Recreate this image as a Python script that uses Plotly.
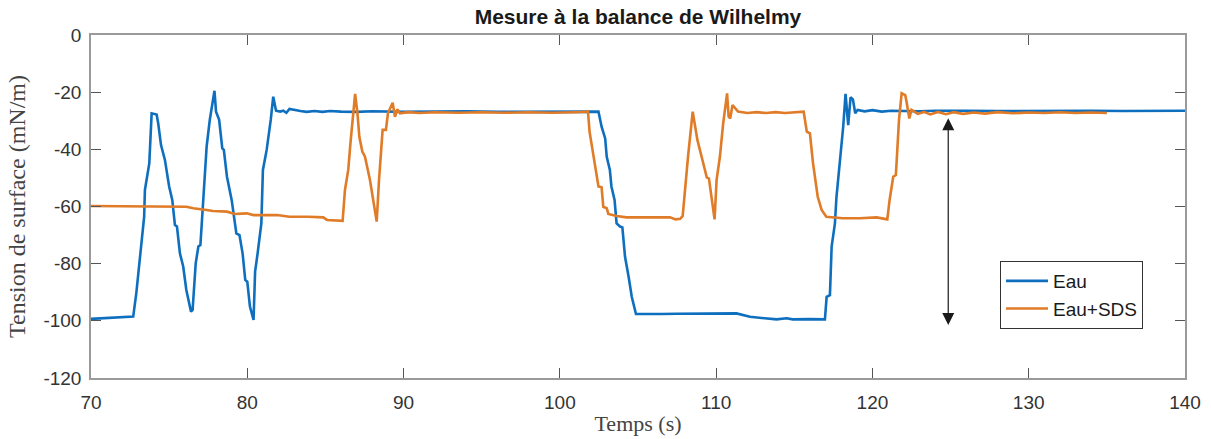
import plotly.graph_objects as go

# ---------------- data ----------------
eau_t = [70.0, 71.0, 72.0, 72.7, 72.9, 73.24, 73.4, 73.45, 73.73, 73.88, 74.2, 74.3, 74.48,
         74.73, 75.0, 75.2, 75.37, 75.5, 75.69, 75.9, 76.1, 76.4, 76.5, 76.7, 76.87, 77.0,
         77.2, 77.4, 77.6, 77.8, 77.9, 78.0, 78.2, 78.4, 78.5, 78.7, 79.0, 79.3, 79.5, 79.7,
         79.87, 80.0, 80.17, 80.4, 80.5, 80.66, 80.9, 81.0, 81.24, 81.5, 81.66, 81.84, 82.1,
         82.3, 82.5, 82.7, 83.0, 83.4, 83.8, 84.3, 84.8, 85.3, 86.0, 87.0, 88.0, 89.0, 90.0,
         92.0, 94.0, 96.0, 98.0, 100.0, 102.0, 102.47, 102.67, 102.9, 103.0, 103.2, 103.3,
         103.5, 103.63, 103.85, 104.0, 104.17, 104.4, 104.6, 104.87, 105.55, 106.5, 107.5,
         109.0, 110.5, 111.3, 112.16, 113.0, 113.87, 114.5, 114.9, 116.0, 116.96, 117.07,
         117.28, 117.39, 117.6, 117.7, 117.92, 118.13, 118.28, 118.45, 118.6, 118.75, 118.9,
         119.05, 119.5, 120.0, 120.6, 121.2, 122.0, 123.0, 124.0, 125.0, 126.0, 128.0, 130.0,
         132.0, 134.0, 136.0, 138.0, 140.0]
eau_v = [-99.3, -99.0, -98.8, -98.5, -90.3, -71.7, -63.6, -54.2, -44.9, -27.4, -27.8, -30.9,
         -38.5, -43.7, -53.0, -57.7, -66.5, -67.0, -76.4, -81.0, -89.2, -96.8, -96.2, -79.9,
         -74.0, -73.5, -57.7, -39.0, -29.7, -22.7, -19.5, -26.8, -29.7, -39.7, -40.2, -49.6,
         -57.7, -69.4, -70.0, -76.4, -85.7, -86.3, -95.0, -99.7, -82.8, -76.4, -65.9, -47.2,
         -40.2, -29.7, -21.6, -26.5, -26.8, -26.5, -27.2, -25.9, -26.3, -26.6, -26.9, -26.6,
         -26.9, -26.6, -26.8, -26.9, -26.7, -26.8, -26.9, -26.8, -26.7, -26.9, -26.8, -26.8,
         -26.8, -26.8, -32.1, -36.2, -42.6, -47.2, -53.0, -57.7, -65.9, -67.0, -67.3, -77.6,
         -84.6, -91.6, -97.6, -97.7, -97.6, -97.5, -97.4, -97.4, -97.4, -98.6, -99.1, -99.5,
         -99.1, -99.5, -99.4, -99.5, -91.6, -91.0, -74.0, -65.9, -56.6, -44.9, -32.1, -20.6,
         -31.5, -21.8, -22.5, -27.4, -26.2, -26.7, -26.3, -26.8, -26.5, -26.6, -26.7, -26.5,
         -26.6, -26.5, -26.6, -26.5, -26.6, -26.5, -26.6, -26.5, -26.5]

sds_t = [70.0, 72.0, 74.0, 76.1, 76.55, 77.4, 77.8, 78.7, 79.2, 79.96, 80.4, 81.9, 82.7, 83.9,
         84.86, 85.1, 86.1, 86.25, 86.46, 86.6, 86.78, 86.9, 87.05, 87.17, 87.36, 87.53, 87.85,
         88.1, 88.28, 88.43, 88.66, 88.87, 89.0, 89.3, 89.45, 89.6, 89.77, 90.3, 91.0, 92.0,
         93.5, 95.0, 96.5, 98.0, 99.5, 101.0, 101.8, 101.9, 102.1, 102.3, 102.47, 102.67,
         102.78, 103.0, 103.1, 103.63, 104.27, 105.5, 107.05, 107.4, 107.7, 107.86, 108.0,
         108.2, 108.5, 108.8, 109.07, 109.4, 109.54, 109.7, 109.9, 110.03, 110.24, 110.45,
         110.7, 110.8, 110.9, 111.05, 111.4, 112.0, 112.6, 113.2, 113.8, 114.4, 115.0, 115.6,
         115.8, 116.0, 116.2, 116.5, 116.75, 117.05, 118.1, 119.2, 120.27, 120.95, 121.1,
         121.33, 121.5, 121.7, 121.87, 122.1, 122.2, 122.36, 122.5, 122.9, 123.3, 123.7, 124.2,
         124.7, 125.2, 125.8, 126.5, 127.2, 128.0, 129.0, 130.0, 131.0, 132.0, 133.0, 134.0,
         135.0]
sds_v = [-59.8, -60.0, -60.0, -60.1, -60.6, -61.2, -61.6, -61.8, -62.6, -62.4, -63.0, -63.0,
         -63.6, -63.6, -63.8, -64.7, -65.0, -54.2, -47.2, -37.9, -28.6, -20.6, -27.4, -35.6,
         -40.8, -42.6, -50.7, -58.9, -65.3, -50.7, -33.2, -33.2, -27.4, -23.7, -28.6, -26.0,
         -27.4, -27.0, -27.3, -27.0, -27.2, -27.0, -27.2, -27.0, -27.2, -27.0, -26.8, -33.8,
         -40.2, -47.2, -53.0, -53.3, -60.1, -60.6, -62.6, -63.3, -63.8, -63.8, -63.8, -64.5,
         -64.3, -63.3, -54.2, -42.6, -26.8, -36.7, -42.6, -49.8, -50.2, -56.6, -64.5, -50.7,
         -42.6, -30.9, -20.4, -28.6, -29.2, -24.5, -26.8, -27.3, -27.0, -27.3, -27.0, -27.3,
         -27.0, -26.8, -33.8, -34.4, -44.9, -56.6, -61.2, -63.6, -64.1, -64.1, -63.8, -64.5,
         -57.7, -49.6, -49.0, -29.7, -20.4, -21.0, -23.9, -29.2, -26.2, -27.6, -26.9, -27.8,
         -26.9, -27.7, -27.0, -27.6, -27.1, -27.5, -27.0, -27.4, -27.1, -27.3, -27.0, -27.3,
         -27.1, -27.3, -27.2]

x_ticks = [70, 80, 90, 100, 110, 120, 130, 140]
y_ticks = [0, -20, -40, -60, -80, -100, -120]

arrow_t = 124.85
arrow_top = -28.6
arrow_bottom = -101.5

BLUE = "#0F6FBF"
ORANGE = "#E07B28"

W, H = 1211, 439

fig = go.Figure()
fig.add_trace(go.Scatter(x=eau_t, y=eau_v, mode="lines", name="Eau",
                         line=dict(color=BLUE, width=2.6)))
fig.add_trace(go.Scatter(x=sds_t, y=sds_v, mode="lines", name="Eau+SDS",
                         line=dict(color=ORANGE, width=2.6)))

fig.add_annotation(x=arrow_t, y=arrow_bottom, ax=arrow_t, ay=arrow_top,
                   xref="x", yref="y", axref="x", ayref="y", text="",
                   showarrow=True, arrowhead=2, startarrowhead=2,
                   arrowside="end+start", arrowsize=2.0, startarrowsize=2.0,
                   arrowwidth=1.2, arrowcolor="#1a1a1a")

axis_common = dict(showgrid=False, zeroline=False, showline=True, linecolor="#9a9a9a",
                   linewidth=1.5, mirror="ticks", ticks="inside", ticklen=10,
                   tickwidth=1, tickcolor="#555555",
                   tickfont=dict(family="Liberation Sans, Arial, sans-serif", size=19,
                                 color="#333333"))

fig.update_xaxes(range=[70, 140], tickvals=x_ticks, ticktext=[str(v) for v in x_ticks],
                 ticklabelstandoff=6,
                 title=dict(text="Temps (s)", standoff=4,
                            font=dict(family="Liberation Serif, serif", size=22,
                                      color="#444444")),
                 **axis_common)
fig.update_yaxes(range=[-120, 0], tickvals=y_ticks, ticktext=[str(v) for v in y_ticks],
                 ticklabelstandoff=4,
                 title=dict(text="Tension de surface (mN/m)", standoff=11,
                            font=dict(family="Liberation Serif, serif", size=24,
                                      color="#444444")),
                 **axis_common)

fig.update_layout(
    width=W, height=H,
    margin=dict(l=91, r=26, t=35, b=61, autoexpand=False),
    paper_bgcolor="white", plot_bgcolor="white",
    title=dict(text="<b>Mesure à la balance de Wilhelmy</b>", x=638 / W,
               xanchor="center", y=1 - 17 / H, yanchor="middle", yref="container",
               font=dict(family="Liberation Sans, Arial, sans-serif", size=21,
                         color="#1a1a1a")),
    legend=dict(x=(1000 - 91) / 1094, y=(378 - 261) / 343, xanchor="left", yanchor="top",
                bgcolor="white", bordercolor="#333333", borderwidth=1,
                font=dict(family="Liberation Sans, Arial, sans-serif", size=19,
                          color="#1a1a1a"),
                tracegroupgap=0, itemwidth=42),
    showlegend=True,
)

fig.write_html("out.html", config={"displayModeBar": False},
               post_script="document.body.style.margin='0';document.body.style.overflow='hidden';")
